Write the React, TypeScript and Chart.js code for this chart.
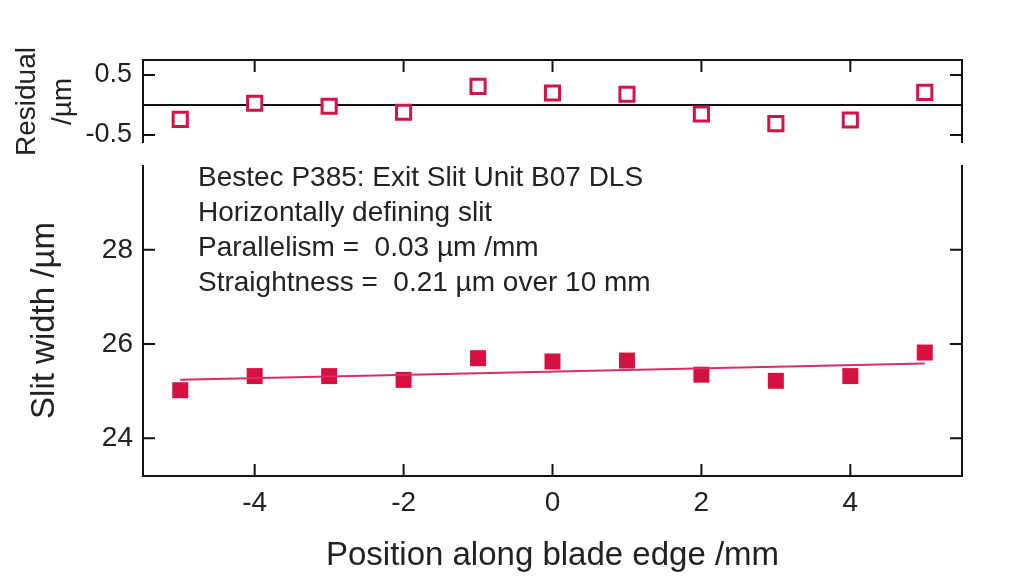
import React, { useEffect, useRef } from 'react';
import { Chart, registerables } from 'chart.js';

Chart.register(...registerables);

// ---- data ----
const positions = [-5, -4, -3, -2, -1, 0, 1, 2, 3, 4, 5];
const slitWidths = [25.02, 25.32, 25.32, 25.24, 25.7, 25.63, 25.65, 25.35, 25.22, 25.32, 25.82];
const residuals = [-0.24, 0.03, -0.02, -0.12, 0.31, 0.2, 0.18, -0.15, -0.31, -0.25, 0.21];
const fitPositions = [-5, 5];
const fitValues = [25.24, 25.59];
const xTickValues = [-4, -2, 0, 2, 4];
const yTickValues = [24, 26, 28];
const residualTickValues = [-0.5, 0.5];
const annotationLines = [
  'Bestec P385: Exit Slit Unit B07 DLS',
  'Horizontally defining slit',
  'Parallelism =  0.03 \u00b5m /mm',
  'Straightness =  0.21 \u00b5m over 10 mm',
];
const xTitle = 'Position along blade edge /mm';
const yTitle = 'Slit width /\u00b5m';
const residualTitle = ['Residual', '/\u00b5m'];

const FONT = "'Liberation Sans', Arial, sans-serif";
const TEXT = '#222';
const FILL_RED = '#d6103f';
const LINE_RED = '#dd2c64';

type FrameOpts = { top: boolean; bottom: boolean; zero: boolean; xTicks: number[]; yTicks: number[] };

function makeFrame(o: FrameOpts) {
  return {
    id: 'frame',
    beforeDatasetsDraw(chart: any) {
      const { ctx, chartArea } = chart;
      const { left, right, top, bottom } = chartArea;
      const xs = chart.scales.x;
      const ys = chart.scales.y;
      ctx.save();
      ctx.strokeStyle = '#111';
      ctx.lineWidth = 2;
      ctx.beginPath();
      ctx.moveTo(left, top);
      ctx.lineTo(left, bottom);
      ctx.moveTo(right, top);
      ctx.lineTo(right, bottom);
      if (o.top) {
        ctx.moveTo(left - 1, top);
        ctx.lineTo(right + 1, top);
      }
      if (o.bottom) {
        ctx.moveTo(left - 1, bottom);
        ctx.lineTo(right + 1, bottom);
      }
      if (o.zero) {
        const z = ys.getPixelForValue(0);
        ctx.moveTo(left, z);
        ctx.lineTo(right, z);
      }
      for (const v of o.yTicks) {
        const p = ys.getPixelForValue(v);
        ctx.moveTo(left, p);
        ctx.lineTo(left + 12, p);
        ctx.moveTo(right, p);
        ctx.lineTo(right - 12, p);
      }
      for (const v of o.xTicks) {
        const p = xs.getPixelForValue(v);
        if (o.top) {
          ctx.moveTo(p, top);
          ctx.lineTo(p, top + 12);
        }
        if (o.bottom) {
          ctx.moveTo(p, bottom);
          ctx.lineTo(p, bottom - 12);
        }
      }
      ctx.stroke();
      ctx.restore();
    },
  };
}

const annotationPlugin = {
  id: 'annot',
  afterDraw(chart: any) {
    const { ctx, chartArea } = chart;
    ctx.save();
    ctx.fillStyle = TEXT;
    ctx.font = `28px ${FONT}`;
    ctx.textAlign = 'left';
    ctx.textBaseline = 'middle';
    annotationLines.forEach((line, i) => {
      ctx.fillText(line, chartArea.left + 55, chartArea.top + 13 + i * 35);
    });
    ctx.restore();
  },
};

export default function App() {
  const resRef = useRef<HTMLCanvasElement | null>(null);
  const mainRef = useRef<HTMLCanvasElement | null>(null);

  useEffect(() => {
    Chart.defaults.font.family = FONT;
    Chart.defaults.color = TEXT;

    const main = new Chart(mainRef.current as HTMLCanvasElement, {
      type: 'scatter',
      data: {
        datasets: [
          {
            type: 'line',
            data: fitPositions.map((x, i) => ({ x, y: fitValues[i] })),
            borderColor: LINE_RED,
            borderWidth: 2,
            pointRadius: 0,
            fill: false,
          } as any,
          {
            data: positions.map((x, i) => ({ x, y: slitWidths[i] })),
            pointStyle: 'rect',
            pointRadius: 11.3,
            pointBackgroundColor: FILL_RED,
            pointBorderWidth: 0,
            pointBorderColor: FILL_RED,
          },
        ],
      },
      options: {
        animation: false,
        responsive: false,
        maintainAspectRatio: false,
        layout: { padding: { left: 0, right: 62, top: 165, bottom: 0 } },
        plugins: { legend: { display: false }, tooltip: { enabled: false } },
        scales: {
          x: {
            type: 'linear',
            min: -5.5,
            max: 5.5,
            afterBuildTicks: (s: any) => {
              s.ticks = xTickValues.map((v) => ({ value: v }));
            },
            afterFit: (s: any) => {
              s.height = 112;
            },
            grid: { display: false, drawTicks: false },
            border: { display: false },
            ticks: { font: { size: 28 }, padding: 10, color: TEXT, maxRotation: 0, callback: (v: any) => String(v) },
            title: { display: true, text: xTitle, font: { size: 33 }, color: TEXT, padding: { top: 0, bottom: 12 } },
          },
          y: {
            type: 'linear',
            min: 23.2,
            max: 29.8,
            afterBuildTicks: (s: any) => {
              s.ticks = yTickValues.map((v) => ({ value: v }));
            },
            afterFit: (s: any) => {
              s.width = 143;
            },
            grid: { display: false, drawTicks: false },
            border: { display: false },
            ticks: { font: { size: 28 }, padding: 10, color: TEXT, callback: (v: any) => String(v) },
            title: { display: true, text: yTitle, font: { size: 33 }, color: TEXT, padding: { top: 25, bottom: 0 } },
          },
        },
      },
      plugins: [makeFrame({ top: false, bottom: true, zero: false, xTicks: xTickValues, yTicks: yTickValues }), annotationPlugin],
    });

    const res = new Chart(resRef.current as HTMLCanvasElement, {
      type: 'scatter',
      data: {
        datasets: [
          {
            data: positions.map((x, i) => ({ x, y: residuals[i] })),
            pointStyle: 'rect',
            pointRadius: 10,
            pointBackgroundColor: '#ffffff',
            pointBorderColor: '#d4124a',
            pointBorderWidth: 3,
          },
        ],
      },
      options: {
        animation: false,
        responsive: false,
        maintainAspectRatio: false,
        layout: { padding: { left: 0, right: 62, top: 60, bottom: 57 } },
        plugins: { legend: { display: false }, tooltip: { enabled: false } },
        scales: {
          x: { type: 'linear', min: -5.5, max: 5.5, display: false },
          y: {
            type: 'linear',
            min: -0.633,
            max: 0.75,
            afterBuildTicks: (s: any) => {
              s.ticks = residualTickValues.map((v) => ({ value: v }));
            },
            afterFit: (s: any) => {
              s.width = 143;
            },
            grid: { display: false, drawTicks: false },
            border: { display: false },
            ticks: { font: { size: 27 }, padding: 11, color: TEXT, callback: (v: any) => Number(v).toFixed(1) },
            title: {
              display: true,
              text: residualTitle,
              font: { size: 28, lineHeight: 1.3 },
              color: TEXT,
              padding: { top: 9, bottom: 0 },
            },
          },
        },
      },
      plugins: [makeFrame({ top: true, bottom: false, zero: true, xTicks: xTickValues, yTicks: residualTickValues })],
    });

    return () => {
      main.destroy();
      res.destroy();
    };
  }, []);

  return (
    <div style={{ position: 'absolute', left: 0, top: 0, width: 1024, height: 588, background: '#fff', overflow: 'hidden' }}>
      <canvas ref={mainRef} width={1024} height={588} style={{ position: 'absolute', left: 0, top: 0 }} />
      <canvas ref={resRef} width={1024} height={200} style={{ position: 'absolute', left: 0, top: 0 }} />
    </div>
  );
}
